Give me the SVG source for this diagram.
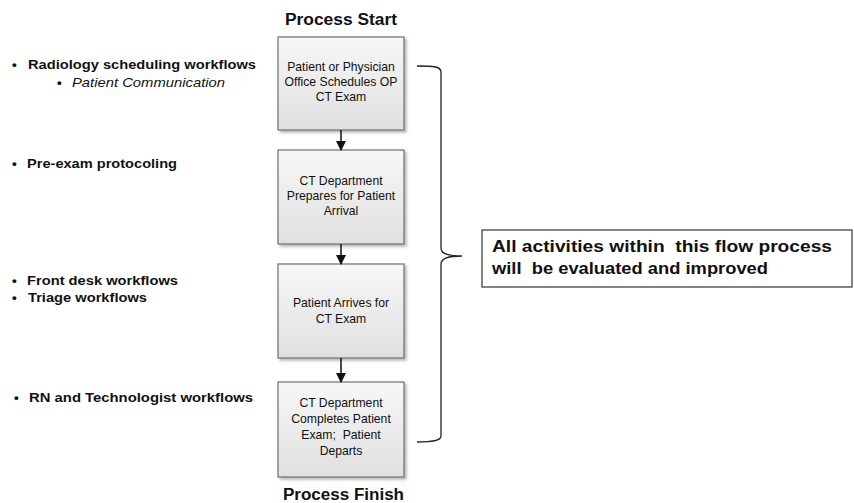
<svg xmlns="http://www.w3.org/2000/svg" width="854" height="503" viewBox="0 0 854 503">
<style>
.box{fill:url(#g);stroke:#6e6e6e;stroke-width:1.2}
.bt{font-family:"Liberation Sans",Arial,sans-serif;font-size:12.2px;fill:#111;text-anchor:middle}
.lt{font-family:"Liberation Sans",Arial,sans-serif;font-size:13.5px;font-weight:bold;fill:#111}
.it{font-family:"Liberation Sans",Arial,sans-serif;font-size:13.5px;font-style:italic;fill:#111}
.hd{font-family:"Liberation Sans",Arial,sans-serif;font-size:16px;font-weight:bold;fill:#111}
.ct{font-family:"Liberation Sans",Arial,sans-serif;font-size:17px;font-weight:bold;fill:#111}
.con{stroke:#111;stroke-width:1.5;fill:none}
</style>
<defs>
<linearGradient id="g" x1="0" y1="0" x2="0" y2="1">
<stop offset="0" stop-color="#f7f7f7"/>
<stop offset="1" stop-color="#e0e0e0"/>
</linearGradient>
<filter id="sh" x="-10%" y="-10%" width="130%" height="130%">
<feDropShadow dx="2" dy="2" stdDeviation="1.5" flood-color="#000" flood-opacity="0.3"/>
</filter>
<marker id="ah" markerWidth="10" markerHeight="10" refX="9" refY="5" orient="auto" markerUnits="userSpaceOnUse">
<path d="M0,0 L10,5 L0,10 z" fill="#111"/>
</marker>
</defs>
<rect width="854" height="503" fill="#fff"/>

<text class="hd" x="285" y="25" textLength="112" lengthAdjust="spacingAndGlyphs">Process Start</text>
<text class="hd" x="283" y="500" textLength="121" lengthAdjust="spacingAndGlyphs">Process Finish</text>

<g id="n1">
<rect class="box" x="278" y="37" width="126" height="93" filter="url(#sh)"/>
<text class="bt" x="341" y="71">Patient or Physician</text>
<text class="bt" x="341" y="86">Office Schedules OP</text>
<text class="bt" x="341" y="101">CT Exam</text>
</g>
<g id="n2">
<rect class="box" x="278" y="150" width="126" height="94" filter="url(#sh)"/>
<text class="bt" x="341" y="185">CT Department</text>
<text class="bt" x="341" y="200">Prepares for Patient</text>
<text class="bt" x="341" y="215">Arrival</text>
</g>
<g id="n3">
<rect class="box" x="278" y="264" width="126" height="94" filter="url(#sh)"/>
<text class="bt" x="341" y="307">Patient Arrives for</text>
<text class="bt" x="341" y="323">CT Exam</text>
</g>
<g id="n4">
<rect class="box" x="278" y="382" width="126" height="95" filter="url(#sh)"/>
<text class="bt" x="341" y="407">CT Department</text>
<text class="bt" x="341" y="423">Completes Patient</text>
<text class="bt" x="341" y="439" xml:space="preserve">Exam;  Patient</text>
<text class="bt" x="341" y="455">Departs</text>
</g>

<g id="connectors">
<line class="con" x1="341" y1="130" x2="341" y2="150" marker-end="url(#ah)"/>
<line class="con" x1="341" y1="244" x2="341" y2="264" marker-end="url(#ah)"/>
<line class="con" x1="341" y1="358" x2="341" y2="382" marker-end="url(#ah)"/>
</g>

<g id="brace">
<path d="M417,66 C432,66 441,66 441,72 L441,248 C441,254 448,256 462,256 C448,256 441,258 441,264 L441,436 C441,441 432,442 417,442" fill="none" stroke="#222" stroke-width="1.3"/>
</g>

<g id="note">
<rect x="482" y="230" width="370" height="57" fill="#fff" stroke="#333" stroke-width="1.2"/>
<text class="ct" x="492" y="252" xml:space="preserve" textLength="340" lengthAdjust="spacingAndGlyphs">All activities within  this flow process</text>
<text class="ct" x="492" y="274" xml:space="preserve" textLength="276" lengthAdjust="spacingAndGlyphs">will  be evaluated and improved</text>
</g>

<g id="labels">
<text class="lt" x="12" y="69">•</text><text class="lt" x="28" y="69" textLength="228" lengthAdjust="spacingAndGlyphs">Radiology scheduling workflows</text>
<text class="lt" x="57" y="87">•</text><text class="it" x="72" y="87" textLength="153" lengthAdjust="spacingAndGlyphs">Patient Communication</text>
<text class="lt" x="12" y="168">•</text><text class="lt" x="27" y="168" textLength="150" lengthAdjust="spacingAndGlyphs">Pre-exam protocoling</text>
<text class="lt" x="12" y="285">•</text><text class="lt" x="27" y="285" textLength="151" lengthAdjust="spacingAndGlyphs">Front desk workflows</text>
<text class="lt" x="12" y="302">•</text><text class="lt" x="28" y="302" textLength="119" lengthAdjust="spacingAndGlyphs">Triage workflows</text>
<text class="lt" x="14" y="402">•</text><text class="lt" x="29" y="402" textLength="224" lengthAdjust="spacingAndGlyphs">RN and Technologist workflows</text>
</g>
</svg>
